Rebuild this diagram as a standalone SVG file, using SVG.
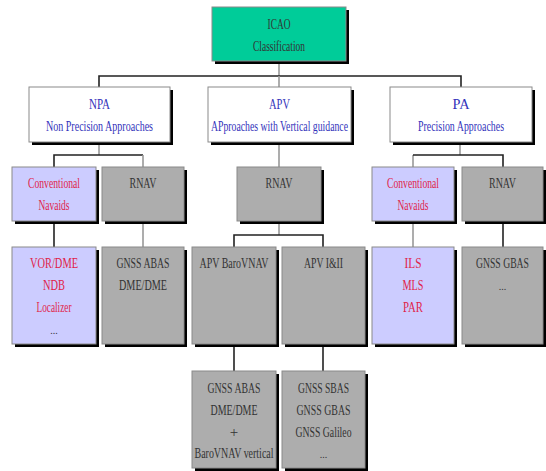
<svg xmlns="http://www.w3.org/2000/svg" width="546" height="471" viewBox="0 0 546 471">
<defs>
<style>
.sh{fill:#000}
.bx{stroke:#8a8a8a;stroke-width:1}
.teal{fill:#00CC99}
.wh{fill:#ffffff}
.lav{fill:#CCCCFF}
.gr{fill:#ADADAD}
text{font-family:"Liberation Serif","Times New Roman",serif;font-size:15px;text-anchor:middle}
.tb{fill:#3333BB}
.tr{fill:#E01E4A}
.tg{fill:#333333}
.cn{fill:none;stroke:#222;stroke-width:1.6}
.cl{fill:none;stroke:#999;stroke-width:1.6}
</style>
</defs>
<rect width="546" height="471" fill="#ffffff"/>
<g id="connectors">
<path class="cl" d="M279 61V76"/>
<path class="cn" d="M99 87V76H461V87"/>
<path class="cl" d="M279 76V87"/>
<path class="cl" d="M99 142V155"/>
<path class="cn" d="M54 167V155H143"/>
<path class="cl" d="M143 155V167"/>
<path class="cl" d="M279 142V167"/>
<path class="cl" d="M460 142V155"/>
<path class="cl" d="M413 167V155"/>
<path class="cn" d="M413 155H503V167"/>
<path class="cn" d="M54 221V247"/>
<path class="cl" d="M143 221V247"/>
<path class="cl" d="M279 221V235"/>
<path class="cn" d="M234 247V235H323V247"/>
<path class="cl" d="M413 221V247"/>
<path class="cn" d="M503 221V247"/>
<path class="cn" d="M234 344V371"/>
<path class="cn" d="M323 344V371"/>
</g>
<g id="icao">
<rect class="sh" x="215" y="10" width="134" height="54"/>
<rect class="bx teal" x="212" y="7" width="134" height="54"/>
<text class="tg" x="279" y="29" textLength="23" lengthAdjust="spacingAndGlyphs">ICAO</text>
<text class="tg" x="279" y="51" textLength="52" lengthAdjust="spacingAndGlyphs">Classification</text>
</g>
<g id="npa">
<rect class="sh" x="32" y="90" width="141" height="55"/>
<rect class="bx wh" x="29" y="87" width="141" height="55"/>
<text class="tb" x="99.5" y="109" textLength="21" lengthAdjust="spacingAndGlyphs">NPA</text>
<text class="tb" x="99.5" y="131" textLength="107" lengthAdjust="spacingAndGlyphs">Non Precision Approaches</text>
</g>
<g id="apv">
<rect class="sh" x="211" y="90" width="143" height="55"/>
<rect class="bx wh" x="208" y="87" width="143" height="55"/>
<text class="tb" x="279.5" y="109" textLength="21" lengthAdjust="spacingAndGlyphs">APV</text>
<text class="tb" x="279.5" y="131" textLength="137" lengthAdjust="spacingAndGlyphs">APproaches with Vertical guidance</text>
</g>
<g id="pa">
<rect class="sh" x="393" y="90" width="142" height="55"/>
<rect class="bx wh" x="390" y="87" width="142" height="55"/>
<text class="tb" x="461" y="109" textLength="17" lengthAdjust="spacingAndGlyphs">PA</text>
<text class="tb" x="461" y="131" textLength="86" lengthAdjust="spacingAndGlyphs">Precision Approaches</text>
</g>
<g id="npa-conv">
<rect class="sh" x="15" y="170" width="84" height="54"/>
<rect class="bx lav" x="12" y="167" width="84" height="54"/>
<text class="tr" x="54" y="188" textLength="52" lengthAdjust="spacingAndGlyphs">Conventional</text>
<text class="tr" x="54" y="210" textLength="31" lengthAdjust="spacingAndGlyphs">Navaids</text>
</g>
<g id="npa-rnav">
<rect class="sh" x="105" y="170" width="82" height="54"/>
<rect class="bx gr" x="102" y="167" width="82" height="54"/>
<text class="tg" x="143" y="188" textLength="27" lengthAdjust="spacingAndGlyphs">RNAV</text>
</g>
<g id="apv-rnav">
<rect class="sh" x="240" y="170" width="84" height="54"/>
<rect class="bx gr" x="237" y="167" width="84" height="54"/>
<text class="tg" x="279" y="188" textLength="27" lengthAdjust="spacingAndGlyphs">RNAV</text>
</g>
<g id="pa-conv">
<rect class="sh" x="375" y="170" width="82" height="54"/>
<rect class="bx lav" x="372" y="167" width="82" height="54"/>
<text class="tr" x="413" y="188" textLength="52" lengthAdjust="spacingAndGlyphs">Conventional</text>
<text class="tr" x="413" y="210" textLength="31" lengthAdjust="spacingAndGlyphs">Navaids</text>
</g>
<g id="pa-rnav">
<rect class="sh" x="465" y="170" width="81" height="54"/>
<rect class="bx gr" x="462" y="167" width="81" height="54"/>
<text class="tg" x="502.5" y="188" textLength="27" lengthAdjust="spacingAndGlyphs">RNAV</text>
</g>
<g id="npa-conv-list">
<rect class="sh" x="15" y="250" width="84" height="97"/>
<rect class="bx lav" x="12" y="247" width="84" height="97"/>
<text class="tr" x="54" y="268" textLength="48" lengthAdjust="spacingAndGlyphs">VOR/DME</text>
<text class="tr" x="54" y="290" textLength="22" lengthAdjust="spacingAndGlyphs">NDB</text>
<text class="tr" x="54" y="312" textLength="35" lengthAdjust="spacingAndGlyphs">Localizer</text>
<text class="tg" x="54" y="334" style="font-size:10px">...</text>
</g>
<g id="npa-rnav-list">
<rect class="sh" x="105" y="250" width="82" height="97"/>
<rect class="bx gr" x="102" y="247" width="82" height="97"/>
<text class="tg" x="143" y="268" textLength="53" lengthAdjust="spacingAndGlyphs">GNSS ABAS</text>
<text class="tg" x="143" y="290" textLength="48" lengthAdjust="spacingAndGlyphs">DME/DME</text>
</g>
<g id="apv-baro">
<rect class="sh" x="195" y="250" width="84" height="97"/>
<rect class="bx gr" x="192" y="247" width="84" height="97"/>
<text class="tg" x="234" y="268" textLength="69" lengthAdjust="spacingAndGlyphs">APV BaroVNAV</text>
</g>
<g id="apv-12">
<rect class="sh" x="285" y="250" width="83" height="97"/>
<rect class="bx gr" x="282" y="247" width="83" height="97"/>
<text class="tg" x="323.5" y="268" textLength="39" lengthAdjust="spacingAndGlyphs">APV I&amp;II</text>
</g>
<g id="pa-conv-list">
<rect class="sh" x="375" y="250" width="82" height="97"/>
<rect class="bx lav" x="372" y="247" width="82" height="97"/>
<text class="tr" x="413" y="268" textLength="17" lengthAdjust="spacingAndGlyphs">ILS</text>
<text class="tr" x="413" y="290" textLength="21" lengthAdjust="spacingAndGlyphs">MLS</text>
<text class="tr" x="413" y="312" textLength="20" lengthAdjust="spacingAndGlyphs">PAR</text>
</g>
<g id="pa-rnav-list">
<rect class="sh" x="465" y="250" width="81" height="97"/>
<rect class="bx gr" x="462" y="247" width="81" height="97"/>
<text class="tg" x="502.5" y="268" textLength="53" lengthAdjust="spacingAndGlyphs">GNSS GBAS</text>
<text class="tg" x="502.5" y="290" style="font-size:10px">...</text>
</g>
<g id="apv-baro-list">
<rect class="sh" x="195" y="374" width="84" height="97"/>
<rect class="bx gr" x="192" y="371" width="84" height="97"/>
<text class="tg" x="234" y="393" textLength="53" lengthAdjust="spacingAndGlyphs">GNSS ABAS</text>
<text class="tg" x="234" y="415" textLength="47" lengthAdjust="spacingAndGlyphs">DME/DME</text>
<text class="tg" x="234" y="437">+</text>
<text class="tg" x="234" y="458" textLength="79" lengthAdjust="spacingAndGlyphs">BaroVNAV vertical</text>
</g>
<g id="apv-12-list">
<rect class="sh" x="285" y="374" width="83" height="97"/>
<rect class="bx gr" x="282" y="371" width="83" height="97"/>
<text class="tg" x="323.5" y="393" textLength="51" lengthAdjust="spacingAndGlyphs">GNSS SBAS</text>
<text class="tg" x="323.5" y="415" textLength="54" lengthAdjust="spacingAndGlyphs">GNSS GBAS</text>
<text class="tg" x="323.5" y="437" textLength="56" lengthAdjust="spacingAndGlyphs">GNSS Galileo</text>
<text class="tg" x="323.5" y="458" style="font-size:10px">...</text>
</g>
</svg>
